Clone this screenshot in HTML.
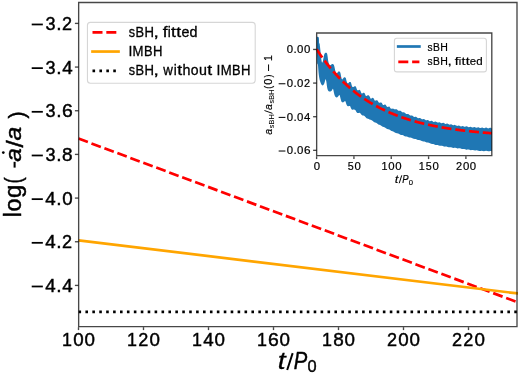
<!DOCTYPE html>
<html><head><meta charset="utf-8"><style>
html,body{margin:0;padding:0;background:#fff;}
body{width:518px;height:375px;overflow:hidden;}
svg{display:block;will-change:transform;}
#w{width:518px;height:375px;}
text{font-family:"Liberation Sans",sans-serif;font-kerning:none;stroke:#000;}
</style></head><body>
<div id="w"><svg width="518" height="375" viewBox="0 0 518 375">
<rect x="0" y="0" width="518" height="375" fill="#fff"/>
<defs><clipPath id="mc"><rect x="78.50" y="2.50" width="440.50" height="324.00"/></clipPath><clipPath id="ic"><rect x="316.6" y="33.0" width="175.2" height="122.6"/></clipPath></defs>
<g clip-path="url(#mc)">
<line x1="78.50" y1="138.6" x2="522.00" y2="303.85" stroke="#ff0000" stroke-width="2.7" stroke-dasharray="10.0 3.83"/>
<line x1="78.50" y1="240.35" x2="522.00" y2="293.96" stroke="#ffa500" stroke-width="2.7"/>
<line x1="78.50" y1="311.9" x2="522.00" y2="311.9" stroke="#000" stroke-width="2.6" stroke-dasharray="2.6 4.317"/>
</g>
<path d="M78.65 2.5 H517.0 V326.55 H78.65 Z" fill="none" stroke="#000" stroke-opacity="0.72" stroke-width="1.35"/>
<line x1="74.90" y1="23.40" x2="78.50" y2="23.40" stroke="#000" stroke-opacity="0.72" stroke-width="1.35"/>
<rect x="31.71" y="23.59" width="11.13" height="1.75" fill="#000"/>
<text transform="translate(45.39 29.90) scale(0.9551 1)" font-size="18.85" style="font-style:normal;stroke-width:0.45px" fill="#000">3</text>
<text transform="translate(56.18 29.90) scale(1.0208 1)" font-size="18.85" style="font-style:normal;stroke-width:0.45px" fill="#000">.</text>
<text transform="translate(62.08 29.90) scale(0.9586 1)" font-size="18.85" style="font-style:normal;stroke-width:0.45px" fill="#000">2</text>
<line x1="74.90" y1="67.07" x2="78.50" y2="67.07" stroke="#000" stroke-opacity="0.72" stroke-width="1.35"/>
<rect x="31.71" y="67.26" width="11.13" height="1.75" fill="#000"/>
<text transform="translate(45.39 73.57) scale(0.9551 1)" font-size="18.85" style="font-style:normal;stroke-width:0.45px" fill="#000">3</text>
<text transform="translate(56.18 73.57) scale(1.0208 1)" font-size="18.85" style="font-style:normal;stroke-width:0.45px" fill="#000">.</text>
<text transform="translate(62.13 73.57) scale(0.9946 1)" font-size="18.85" style="font-style:normal;stroke-width:0.45px" fill="#000">4</text>
<line x1="74.90" y1="110.74" x2="78.50" y2="110.74" stroke="#000" stroke-opacity="0.72" stroke-width="1.35"/>
<rect x="31.71" y="110.93" width="11.13" height="1.75" fill="#000"/>
<text transform="translate(45.39 117.24) scale(0.9551 1)" font-size="18.85" style="font-style:normal;stroke-width:0.45px" fill="#000">3</text>
<text transform="translate(56.18 117.24) scale(1.0208 1)" font-size="18.85" style="font-style:normal;stroke-width:0.45px" fill="#000">.</text>
<text transform="translate(61.94 117.24) scale(1.0293 1)" font-size="18.85" style="font-style:normal;stroke-width:0.45px" fill="#000">6</text>
<line x1="74.90" y1="154.41" x2="78.50" y2="154.41" stroke="#000" stroke-opacity="0.72" stroke-width="1.35"/>
<rect x="31.71" y="154.60" width="11.13" height="1.75" fill="#000"/>
<text transform="translate(45.39 160.91) scale(0.9551 1)" font-size="18.85" style="font-style:normal;stroke-width:0.45px" fill="#000">3</text>
<text transform="translate(56.18 160.91) scale(1.0208 1)" font-size="18.85" style="font-style:normal;stroke-width:0.45px" fill="#000">.</text>
<text transform="translate(62.07 160.91) scale(1.0052 1)" font-size="18.85" style="font-style:normal;stroke-width:0.45px" fill="#000">8</text>
<line x1="74.90" y1="198.08" x2="78.50" y2="198.08" stroke="#000" stroke-opacity="0.72" stroke-width="1.35"/>
<rect x="31.71" y="198.27" width="11.13" height="1.75" fill="#000"/>
<text transform="translate(45.16 204.58) scale(0.9946 1)" font-size="18.85" style="font-style:normal;stroke-width:0.45px" fill="#000">4</text>
<text transform="translate(56.18 204.58) scale(1.0208 1)" font-size="18.85" style="font-style:normal;stroke-width:0.45px" fill="#000">.</text>
<text transform="translate(62.13 204.58) scale(0.9945 1)" font-size="18.85" style="font-style:normal;stroke-width:0.45px" fill="#000">0</text>
<line x1="74.90" y1="241.75" x2="78.50" y2="241.75" stroke="#000" stroke-opacity="0.72" stroke-width="1.35"/>
<rect x="31.71" y="241.94" width="11.13" height="1.75" fill="#000"/>
<text transform="translate(45.16 248.25) scale(0.9946 1)" font-size="18.85" style="font-style:normal;stroke-width:0.45px" fill="#000">4</text>
<text transform="translate(56.18 248.25) scale(1.0208 1)" font-size="18.85" style="font-style:normal;stroke-width:0.45px" fill="#000">.</text>
<text transform="translate(62.08 248.25) scale(0.9586 1)" font-size="18.85" style="font-style:normal;stroke-width:0.45px" fill="#000">2</text>
<line x1="74.90" y1="285.42" x2="78.50" y2="285.42" stroke="#000" stroke-opacity="0.72" stroke-width="1.35"/>
<rect x="31.71" y="285.61" width="11.13" height="1.75" fill="#000"/>
<text transform="translate(45.16 291.92) scale(0.9946 1)" font-size="18.85" style="font-style:normal;stroke-width:0.45px" fill="#000">4</text>
<text transform="translate(56.18 291.92) scale(1.0208 1)" font-size="18.85" style="font-style:normal;stroke-width:0.45px" fill="#000">.</text>
<text transform="translate(62.13 291.92) scale(0.9946 1)" font-size="18.85" style="font-style:normal;stroke-width:0.45px" fill="#000">4</text>
<line x1="78.50" y1="327.20" x2="78.50" y2="330.10" stroke="#000" stroke-opacity="0.72" stroke-width="1.35"/>
<text transform="translate(62.12 346.00) scale(0.9498 1)" font-size="18.85" style="font-style:normal;stroke-width:0.45px" fill="#000">1</text>
<text transform="translate(73.28 346.00) scale(0.9945 1)" font-size="18.85" style="font-style:normal;stroke-width:0.45px" fill="#000">0</text>
<text transform="translate(84.60 346.00) scale(0.9945 1)" font-size="18.85" style="font-style:normal;stroke-width:0.45px" fill="#000">0</text>
<line x1="143.50" y1="327.20" x2="143.50" y2="330.10" stroke="#000" stroke-opacity="0.72" stroke-width="1.35"/>
<text transform="translate(127.12 346.00) scale(0.9498 1)" font-size="18.85" style="font-style:normal;stroke-width:0.45px" fill="#000">1</text>
<text transform="translate(138.24 346.00) scale(0.9586 1)" font-size="18.85" style="font-style:normal;stroke-width:0.45px" fill="#000">2</text>
<text transform="translate(149.60 346.00) scale(0.9945 1)" font-size="18.85" style="font-style:normal;stroke-width:0.45px" fill="#000">0</text>
<line x1="208.50" y1="327.20" x2="208.50" y2="330.10" stroke="#000" stroke-opacity="0.72" stroke-width="1.35"/>
<text transform="translate(192.12 346.00) scale(0.9498 1)" font-size="18.85" style="font-style:normal;stroke-width:0.45px" fill="#000">1</text>
<text transform="translate(203.28 346.00) scale(0.9946 1)" font-size="18.85" style="font-style:normal;stroke-width:0.45px" fill="#000">4</text>
<text transform="translate(214.60 346.00) scale(0.9945 1)" font-size="18.85" style="font-style:normal;stroke-width:0.45px" fill="#000">0</text>
<line x1="273.50" y1="327.20" x2="273.50" y2="330.10" stroke="#000" stroke-opacity="0.72" stroke-width="1.35"/>
<text transform="translate(257.12 346.00) scale(0.9498 1)" font-size="18.85" style="font-style:normal;stroke-width:0.45px" fill="#000">1</text>
<text transform="translate(268.10 346.00) scale(1.0293 1)" font-size="18.85" style="font-style:normal;stroke-width:0.45px" fill="#000">6</text>
<text transform="translate(279.60 346.00) scale(0.9945 1)" font-size="18.85" style="font-style:normal;stroke-width:0.45px" fill="#000">0</text>
<line x1="338.50" y1="327.20" x2="338.50" y2="330.10" stroke="#000" stroke-opacity="0.72" stroke-width="1.35"/>
<text transform="translate(322.12 346.00) scale(0.9498 1)" font-size="18.85" style="font-style:normal;stroke-width:0.45px" fill="#000">1</text>
<text transform="translate(333.23 346.00) scale(1.0052 1)" font-size="18.85" style="font-style:normal;stroke-width:0.45px" fill="#000">8</text>
<text transform="translate(344.60 346.00) scale(0.9945 1)" font-size="18.85" style="font-style:normal;stroke-width:0.45px" fill="#000">0</text>
<line x1="403.50" y1="327.20" x2="403.50" y2="330.10" stroke="#000" stroke-opacity="0.72" stroke-width="1.35"/>
<text transform="translate(386.93 346.00) scale(0.9586 1)" font-size="18.85" style="font-style:normal;stroke-width:0.45px" fill="#000">2</text>
<text transform="translate(398.28 346.00) scale(0.9945 1)" font-size="18.85" style="font-style:normal;stroke-width:0.45px" fill="#000">0</text>
<text transform="translate(409.60 346.00) scale(0.9945 1)" font-size="18.85" style="font-style:normal;stroke-width:0.45px" fill="#000">0</text>
<line x1="468.50" y1="327.20" x2="468.50" y2="330.10" stroke="#000" stroke-opacity="0.72" stroke-width="1.35"/>
<text transform="translate(451.93 346.00) scale(0.9586 1)" font-size="18.85" style="font-style:normal;stroke-width:0.45px" fill="#000">2</text>
<text transform="translate(463.24 346.00) scale(0.9586 1)" font-size="18.85" style="font-style:normal;stroke-width:0.45px" fill="#000">2</text>
<text transform="translate(474.60 346.00) scale(0.9945 1)" font-size="18.85" style="font-style:normal;stroke-width:0.45px" fill="#000">0</text>
<text transform="translate(20.50 217.24) rotate(-90) scale(0.9644 1)" font-size="23.32" style="font-style:normal;stroke-width:0.45px" fill="#000">l</text>
<text transform="translate(20.50 211.46) rotate(-90) scale(1.0029 1)" font-size="23.32" style="font-style:normal;stroke-width:0.45px" fill="#000">o</text>
<text transform="translate(20.50 198.02) rotate(-90) scale(1.0253 1)" font-size="23.32" style="font-style:normal;stroke-width:0.45px" fill="#000">g</text>
<text transform="translate(20.50 183.53) rotate(-90) scale(0.7975 1)" font-size="23.32" style="font-style:normal;stroke-width:0.45px" fill="#000">(</text>
<rect x="13.59" y="161.82" width="2.03" height="5.79" fill="#000"/>
<text transform="translate(20.50 161.85) rotate(-90) scale(1.0904 1)" font-size="22.40" style="font-style:italic;stroke-width:0.45px" fill="#000">a</text>
<circle cx="3.3" cy="152.6" r="1.35" fill="#000"/>
<text transform="translate(22.70 147.60) rotate(-90) scale(1.0638 1)" font-size="24.70" style="font-style:normal;stroke-width:0.45px" fill="#000">/</text>
<text transform="translate(20.50 140.45) rotate(-90) scale(1.0993 1)" font-size="22.40" style="font-style:italic;stroke-width:0.45px" fill="#000">a</text>
<text transform="translate(23.70 118.42) rotate(-90) scale(0.9429 1)" font-size="22.40" style="font-style:normal;stroke-width:0.45px" fill="#000">)</text>
<text transform="translate(277.85 368.60) scale(1.2000 1)" font-size="23.53" style="font-style:italic;stroke-width:0.27px" fill="#000">t</text>
<line x1="287.19" y1="370.00" x2="292.67" y2="353.08" stroke="#000" stroke-width="1.95"/>
<text transform="translate(293.63 368.60) scale(0.8600 1)" font-size="23.53" style="font-style:italic;stroke-width:0.45px" fill="#000">P</text>
<text transform="translate(307.40 372.30) scale(0.9945 1)" font-size="16.48" style="font-style:normal;stroke-width:0.40px" fill="#000">0</text>
<rect x="87.45" y="22.35" width="167.75" height="60.85" rx="3" fill="#fff" fill-opacity="0.8" stroke="#d6d6d6" stroke-width="1.1"/>
<line x1="92.5" y1="32.40" x2="118.5" y2="32.40" stroke="#ff0000" stroke-width="2.7" stroke-dasharray="10.0 3.83"/>
<line x1="92.5" y1="51.55" x2="118.5" y2="51.55" stroke="#ffa500" stroke-width="2.7" stroke-linecap="square"/>
<line x1="92.5" y1="70.90" x2="118.5" y2="70.90" stroke="#000" stroke-width="2.6" stroke-dasharray="2.6 4.317"/>
<text transform="translate(128.81 36.70) scale(0.9043 1)" font-size="13.99" style="font-style:normal;stroke-width:0.30px" fill="#000">s</text>
<text transform="translate(135.57 36.70) scale(0.9166 1)" font-size="13.99" style="font-style:normal;stroke-width:0.30px" fill="#000">B</text>
<text transform="translate(144.60 36.70) scale(0.9384 1)" font-size="13.99" style="font-style:normal;stroke-width:0.30px" fill="#000">H</text>
<text transform="translate(153.60 36.70) scale(1.3752 1)" font-size="13.99" style="font-style:normal;stroke-width:0.30px" fill="#000">,</text>
<text transform="translate(162.76 36.70) scale(1.2388 1)" font-size="13.99" style="font-style:normal;stroke-width:0.30px" fill="#000">f</text>
<text transform="translate(167.69 36.70) scale(0.9644 1)" font-size="13.99" style="font-style:normal;stroke-width:0.30px" fill="#000">i</text>
<text transform="translate(171.10 36.70) scale(1.2609 1)" font-size="13.99" style="font-style:normal;stroke-width:0.30px" fill="#000">t</text>
<text transform="translate(176.28 36.70) scale(1.2609 1)" font-size="13.99" style="font-style:normal;stroke-width:0.30px" fill="#000">t</text>
<text transform="translate(181.49 36.70) scale(1.0190 1)" font-size="13.99" style="font-style:normal;stroke-width:0.30px" fill="#000">e</text>
<text transform="translate(189.61 36.70) scale(1.0253 1)" font-size="13.99" style="font-style:normal;stroke-width:0.30px" fill="#000">d</text>
<text transform="translate(128.46 56.15) scale(0.9977 1)" font-size="13.99" style="font-style:normal;stroke-width:0.30px" fill="#000">I</text>
<text transform="translate(132.56 56.15) scale(0.9406 1)" font-size="13.99" style="font-style:normal;stroke-width:0.30px" fill="#000">M</text>
<text transform="translate(143.98 56.15) scale(0.9166 1)" font-size="13.99" style="font-style:normal;stroke-width:0.30px" fill="#000">B</text>
<text transform="translate(153.01 56.15) scale(0.9384 1)" font-size="13.99" style="font-style:normal;stroke-width:0.30px" fill="#000">H</text>
<text transform="translate(128.81 75.30) scale(0.9043 1)" font-size="13.99" style="font-style:normal;stroke-width:0.30px" fill="#000">s</text>
<text transform="translate(135.57 75.30) scale(0.9166 1)" font-size="13.99" style="font-style:normal;stroke-width:0.30px" fill="#000">B</text>
<text transform="translate(144.60 75.30) scale(0.9384 1)" font-size="13.99" style="font-style:normal;stroke-width:0.30px" fill="#000">H</text>
<text transform="translate(153.60 75.30) scale(1.3752 1)" font-size="13.99" style="font-style:normal;stroke-width:0.30px" fill="#000">,</text>
<text transform="translate(163.27 75.30) scale(0.9535 1)" font-size="13.99" style="font-style:normal;stroke-width:0.30px" fill="#000">w</text>
<text transform="translate(173.84 75.30) scale(0.9644 1)" font-size="13.99" style="font-style:normal;stroke-width:0.30px" fill="#000">i</text>
<text transform="translate(177.25 75.30) scale(1.2609 1)" font-size="13.99" style="font-style:normal;stroke-width:0.30px" fill="#000">t</text>
<text transform="translate(182.54 75.30) scale(1.0242 1)" font-size="13.99" style="font-style:normal;stroke-width:0.30px" fill="#000">h</text>
<text transform="translate(190.84 75.30) scale(1.0029 1)" font-size="13.99" style="font-style:normal;stroke-width:0.30px" fill="#000">o</text>
<text transform="translate(198.98 75.30) scale(1.0171 1)" font-size="13.99" style="font-style:normal;stroke-width:0.30px" fill="#000">u</text>
<text transform="translate(207.23 75.30) scale(1.2609 1)" font-size="13.99" style="font-style:normal;stroke-width:0.30px" fill="#000">t</text>
<text transform="translate(216.53 75.30) scale(0.9977 1)" font-size="13.99" style="font-style:normal;stroke-width:0.30px" fill="#000">I</text>
<text transform="translate(220.63 75.30) scale(0.9406 1)" font-size="13.99" style="font-style:normal;stroke-width:0.30px" fill="#000">M</text>
<text transform="translate(232.04 75.30) scale(0.9166 1)" font-size="13.99" style="font-style:normal;stroke-width:0.30px" fill="#000">B</text>
<text transform="translate(241.07 75.30) scale(0.9384 1)" font-size="13.99" style="font-style:normal;stroke-width:0.30px" fill="#000">H</text>
<rect x="316.60" y="33.00" width="175.20" height="122.60" fill="#fff"/>
<g clip-path="url(#ic)">
<path d="M316.60 37.40 C316.68 37.32 316.88 37.00 317.10 36.90 C317.32 36.80 317.65 36.73 317.90 36.80 C318.15 36.87 318.43 36.97 318.60 37.30 C318.78 37.63 318.87 37.85 318.95 38.80 C319.03 39.75 318.99 42.20 319.10 43.00 C319.21 43.80 319.47 43.10 319.60 43.60 C319.73 44.10 319.77 44.85 319.90 46.00 C320.03 47.15 320.25 49.00 320.40 50.50 C320.55 52.00 320.65 53.53 320.80 55.00 C320.95 56.47 321.13 58.13 321.30 59.30 C321.47 60.47 321.63 61.45 321.80 62.00 C321.97 62.55 322.13 62.68 322.30 62.60 C322.47 62.52 322.63 62.10 322.80 61.50 C322.97 60.90 323.13 59.83 323.30 59.00 C323.47 58.17 323.63 57.30 323.80 56.50 C323.97 55.70 324.08 54.77 324.30 54.20 C324.52 53.63 324.83 53.33 325.10 53.10 C325.37 52.87 325.63 52.80 325.90 52.80 C326.17 52.80 326.47 52.82 326.70 53.10 C326.93 53.38 327.13 53.85 327.30 54.50 C327.47 55.15 327.57 56.03 327.70 57.00 C327.83 57.97 327.95 59.33 328.10 60.30 C328.25 61.27 328.40 62.10 328.60 62.80 C328.80 63.50 329.03 64.08 329.30 64.50 C329.57 64.92 329.88 65.25 330.20 65.30 C330.52 65.35 330.90 65.00 331.20 64.80 C331.50 64.60 331.73 64.25 332.00 64.10 C332.27 63.95 332.53 63.83 332.80 63.90 C333.07 63.97 333.35 64.10 333.60 64.50 C333.85 64.90 334.08 65.55 334.30 66.30 C334.52 67.05 334.70 68.13 334.90 69.00 C335.10 69.87 335.27 70.78 335.50 71.50 C335.73 72.22 336.02 73.05 336.30 73.30 C336.58 73.55 336.97 73.18 337.20 73.00 C337.43 72.82 337.50 72.43 337.70 72.20 C337.90 71.97 338.17 71.73 338.40 71.60 C338.63 71.47 338.87 71.38 339.10 71.40 C339.33 71.42 339.57 71.40 339.80 71.70 C340.03 72.00 340.30 72.48 340.50 73.20 C340.70 73.92 340.82 75.12 341.00 76.00 C341.18 76.88 341.38 77.93 341.60 78.50 C341.82 79.07 342.07 79.38 342.30 79.40 C342.53 79.42 342.78 78.88 343.00 78.60 C343.22 78.32 343.37 77.92 343.60 77.70 C343.83 77.48 344.13 77.35 344.40 77.30 C344.67 77.25 344.95 77.23 345.20 77.40 C345.45 77.57 345.68 77.73 345.90 78.30 C346.12 78.87 346.27 80.02 346.50 80.80 C346.73 81.58 347.02 82.60 347.30 83.00 C347.58 83.40 347.93 83.30 348.20 83.20 C348.47 83.10 348.65 82.58 348.90 82.40 C349.15 82.22 349.43 82.15 349.70 82.10 C349.97 82.05 350.27 81.95 350.50 82.10 C350.73 82.25 350.90 82.47 351.10 83.00 C351.30 83.53 351.47 84.65 351.70 85.30 C351.93 85.95 352.22 86.62 352.50 86.90 C352.78 87.18 353.12 87.07 353.40 87.00 C353.68 86.93 353.93 86.62 354.20 86.50 C354.47 86.38 354.73 86.28 355.00 86.30 C355.27 86.32 355.55 86.28 355.80 86.60 C356.05 86.92 356.27 87.63 356.50 88.20 C356.73 88.77 356.93 89.65 357.20 90.00 C357.47 90.35 357.82 90.32 358.10 90.30 C358.38 90.28 358.65 89.97 358.90 89.90 C359.15 89.83 359.37 89.80 359.60 89.90 C359.83 90.00 360.07 90.10 360.30 90.50 C360.53 90.90 360.77 91.82 361.00 92.30 C361.23 92.78 361.43 93.25 361.70 93.40 C361.97 93.55 362.33 93.30 362.60 93.20 C362.87 93.10 363.07 92.87 363.30 92.80 C363.53 92.73 363.75 92.67 364.00 92.80 C364.25 92.93 364.53 93.17 364.80 93.60 C365.07 94.03 365.33 95.00 365.60 95.40 C365.87 95.80 366.12 95.97 366.40 96.00 C366.68 96.03 367.02 95.72 367.30 95.60 C367.58 95.48 367.83 95.32 368.10 95.30 C368.37 95.28 368.62 95.27 368.90 95.50 C369.18 95.73 369.52 96.22 369.80 96.70 C370.08 97.18 370.33 98.08 370.60 98.40 C370.87 98.72 371.12 98.67 371.40 98.60 C371.68 98.53 372.02 98.12 372.30 98.00 C372.58 97.88 372.83 97.77 373.10 97.90 C373.37 98.03 373.63 98.37 373.90 98.80 C374.17 99.23 374.42 100.20 374.70 100.50 C374.98 100.80 375.32 100.65 375.60 100.60 C375.88 100.55 376.13 100.25 376.40 100.20 C376.67 100.15 376.93 100.12 377.20 100.30 C377.47 100.48 377.73 100.92 378.00 101.30 C378.27 101.68 378.50 102.37 378.80 102.60 C379.10 102.83 379.47 102.72 379.80 102.70 C380.13 102.68 380.50 102.48 380.80 102.50 C381.10 102.52 381.33 102.57 381.60 102.80 C381.87 103.03 382.13 103.53 382.40 103.90 C382.67 104.27 382.90 104.85 383.20 105.00 C383.50 105.15 383.87 104.87 384.20 104.80 C384.53 104.73 384.90 104.53 385.20 104.60 C385.50 104.67 385.73 104.87 386.00 105.20 C386.27 105.53 386.53 106.28 386.80 106.60 C387.07 106.92 387.33 107.07 387.60 107.10 C387.87 107.13 388.13 106.88 388.40 106.80 C388.67 106.72 388.93 106.50 389.20 106.60 C389.47 106.70 389.73 107.07 390.00 107.40 C390.27 107.73 390.50 108.38 390.80 108.60 C391.10 108.82 391.47 108.73 391.80 108.70 C392.13 108.67 392.50 108.38 392.80 108.40 C393.10 108.42 393.30 108.64 393.60 108.80 C393.90 108.96 394.11 109.29 394.60 109.37 C395.09 109.44 395.90 109.03 396.55 109.26 C397.20 109.48 397.85 110.44 398.50 110.70 C399.15 110.96 399.80 110.55 400.45 110.82 C401.10 111.10 401.75 112.08 402.40 112.34 C403.05 112.61 403.70 112.15 404.35 112.41 C405.00 112.67 405.65 113.63 406.30 113.90 C406.95 114.16 407.60 113.73 408.25 114.00 C408.90 114.26 409.55 115.23 410.20 115.49 C410.85 115.74 411.50 115.30 412.15 115.54 C412.80 115.78 413.45 116.70 414.10 116.92 C414.75 117.14 415.40 116.65 416.05 116.86 C416.70 117.06 417.35 117.96 418.00 118.16 C418.65 118.35 419.30 117.84 419.95 118.02 C420.60 118.20 421.25 119.08 421.90 119.26 C422.55 119.43 423.20 118.91 423.85 119.07 C424.50 119.24 425.15 120.10 425.80 120.26 C426.45 120.42 427.10 119.87 427.75 120.02 C428.40 120.17 429.05 121.01 429.70 121.15 C430.35 121.29 431.00 120.73 431.65 120.86 C432.30 120.99 432.95 121.82 433.60 121.94 C434.25 122.06 434.90 121.47 435.55 121.58 C436.20 121.69 436.85 122.49 437.50 122.59 C438.15 122.69 438.80 122.09 439.45 122.19 C440.10 122.29 440.75 123.09 441.40 123.20 C442.05 123.31 442.70 122.72 443.35 122.84 C444.00 122.95 444.65 123.78 445.30 123.90 C445.95 124.02 446.60 123.44 447.25 123.56 C447.90 123.68 448.55 124.50 449.20 124.62 C449.85 124.73 450.50 124.15 451.15 124.26 C451.80 124.37 452.45 125.17 453.10 125.27 C453.75 125.38 454.40 124.78 455.05 124.88 C455.70 124.98 456.35 125.77 457.00 125.87 C457.65 125.96 458.30 125.35 458.95 125.44 C459.60 125.53 460.25 126.32 460.90 126.40 C461.55 126.48 462.20 125.86 462.85 125.94 C463.50 126.01 464.15 126.79 464.80 126.86 C465.45 126.93 466.10 126.30 466.75 126.36 C467.40 126.43 468.05 127.19 468.70 127.25 C469.35 127.31 470.00 126.67 470.65 126.72 C471.30 126.78 471.95 127.53 472.60 127.58 C473.25 127.62 473.90 126.97 474.55 127.01 C475.20 127.05 475.85 127.79 476.50 127.83 C477.15 127.87 477.80 127.20 478.45 127.24 C479.10 127.27 479.75 128.01 480.40 128.04 C481.05 128.07 481.70 127.41 482.35 127.44 C483.00 127.47 483.65 128.20 484.30 128.23 C484.95 128.26 485.60 127.59 486.25 127.61 C486.90 127.64 487.55 128.37 488.20 128.39 C488.85 128.41 489.50 127.72 490.15 127.75 C490.80 127.77 491.77 128.39 492.10 128.52 L492.70 151.39 C492.33 151.31 491.23 150.97 490.50 150.95 C489.77 150.94 489.03 151.33 488.30 151.31 C487.57 151.30 486.83 150.88 486.10 150.86 C485.37 150.83 484.63 151.21 483.90 151.18 C483.17 151.15 482.43 150.71 481.70 150.67 C480.97 150.63 480.23 150.98 479.50 150.93 C478.77 150.89 478.03 150.43 477.30 150.38 C476.57 150.32 475.83 150.66 475.10 150.60 C474.37 150.54 473.63 150.07 472.90 150.00 C472.17 149.93 471.43 150.26 470.70 150.18 C469.97 150.10 469.23 149.62 468.50 149.53 C467.77 149.45 467.03 149.76 466.30 149.66 C465.57 149.57 464.83 149.07 464.10 148.97 C463.37 148.87 462.63 149.16 461.90 149.06 C461.17 148.95 460.43 148.45 459.70 148.35 C458.97 148.26 458.23 148.58 457.50 148.49 C456.77 148.40 456.03 147.92 455.30 147.83 C454.57 147.73 453.83 148.04 453.10 147.95 C452.37 147.85 451.63 147.35 450.90 147.24 C450.17 147.14 449.43 147.43 448.70 147.32 C447.97 147.20 447.23 146.69 446.50 146.57 C445.77 146.45 445.03 146.73 444.30 146.60 C443.57 146.48 442.83 145.94 442.10 145.81 C441.37 145.67 440.63 145.93 439.90 145.79 C439.17 145.64 438.43 145.10 437.70 144.95 C436.97 144.79 436.23 145.04 435.50 144.88 C434.77 144.72 434.03 144.15 433.30 143.98 C432.57 143.81 431.83 144.04 431.10 143.85 C430.37 143.66 429.63 143.06 428.90 142.86 C428.17 142.65 427.43 142.83 426.70 142.62 C425.97 142.40 425.23 141.78 424.50 141.57 C423.77 141.36 423.03 141.57 422.30 141.36 C421.57 141.14 420.83 140.52 420.10 140.30 C419.37 140.08 418.63 140.26 417.90 140.05 C417.17 139.83 416.43 139.24 415.70 139.04 C414.97 138.83 414.23 139.04 413.50 138.83 C412.77 138.61 412.03 137.97 411.30 137.75 C410.57 137.54 409.83 137.74 409.10 137.52 C408.37 137.30 407.63 136.68 406.90 136.45 C406.17 136.22 405.43 136.39 404.70 136.16 C403.97 135.92 403.23 135.28 402.50 135.03 C401.77 134.78 401.03 134.92 400.30 134.66 C399.57 134.39 398.83 133.72 398.10 133.44 C397.37 133.16 396.63 133.27 395.90 132.97 C395.17 132.67 394.43 131.96 393.70 131.64 C392.97 131.32 392.23 131.39 391.50 131.05 C390.77 130.71 390.03 129.95 389.30 129.59 C388.57 129.23 387.83 129.27 387.10 128.90 C386.37 128.53 385.63 127.76 384.90 127.38 C384.17 127.01 383.43 127.03 382.70 126.66 C381.97 126.28 381.23 125.52 380.50 125.15 C379.77 124.78 379.03 124.83 378.30 124.44 C377.57 124.06 376.83 123.29 376.10 122.86 C375.37 122.44 374.63 122.34 373.90 121.91 C373.17 121.48 372.43 120.67 371.70 120.28 C370.97 119.88 370.12 119.79 369.50 119.55 C368.88 119.30 368.50 119.02 368.00 118.80 C367.50 118.58 366.93 118.48 366.50 118.20 C366.07 117.92 365.73 117.47 365.40 117.10 C365.07 116.73 364.82 116.25 364.50 116.00 C364.18 115.75 363.83 115.68 363.50 115.60 C363.17 115.52 362.80 115.58 362.50 115.50 C362.20 115.42 361.97 115.35 361.70 115.10 C361.43 114.85 361.17 114.37 360.90 114.00 C360.63 113.63 360.38 113.08 360.10 112.90 C359.82 112.72 359.52 112.87 359.20 112.90 C358.88 112.93 358.52 113.10 358.20 113.10 C357.88 113.10 357.60 113.08 357.30 112.90 C357.00 112.72 356.70 112.43 356.40 112.00 C356.10 111.57 355.80 110.68 355.50 110.30 C355.20 109.92 354.92 109.82 354.60 109.70 C354.28 109.58 353.93 109.60 353.60 109.60 C353.27 109.60 352.90 109.73 352.60 109.70 C352.30 109.67 352.07 109.65 351.80 109.40 C351.53 109.15 351.27 108.72 351.00 108.20 C350.73 107.68 350.43 106.68 350.20 106.30 C349.97 105.92 349.80 105.93 349.60 105.90 C349.40 105.87 349.28 106.03 349.00 106.10 C348.72 106.17 348.23 106.38 347.90 106.30 C347.57 106.22 347.28 106.02 347.00 105.60 C346.72 105.18 346.45 104.47 346.20 103.80 C345.95 103.13 345.70 102.07 345.50 101.60 C345.30 101.13 345.18 101.02 345.00 101.00 C344.82 100.98 344.65 101.30 344.40 101.50 C344.15 101.70 343.85 102.07 343.50 102.20 C343.15 102.33 342.67 102.47 342.30 102.30 C341.93 102.13 341.58 101.78 341.30 101.20 C341.02 100.62 340.83 99.67 340.60 98.80 C340.37 97.93 340.10 96.63 339.90 96.00 C339.70 95.37 339.55 95.13 339.40 95.00 C339.25 94.87 339.18 94.98 339.00 95.20 C338.82 95.42 338.58 95.97 338.30 96.30 C338.02 96.63 337.68 97.03 337.30 97.20 C336.92 97.37 336.42 97.53 336.00 97.30 C335.58 97.07 335.13 96.52 334.80 95.80 C334.47 95.08 334.23 93.97 334.00 93.00 C333.77 92.03 333.58 90.70 333.40 90.00 C333.22 89.30 333.05 88.93 332.90 88.80 C332.75 88.67 332.68 88.93 332.50 89.20 C332.32 89.47 332.07 90.05 331.80 90.40 C331.53 90.75 331.23 91.12 330.90 91.30 C330.57 91.48 330.17 91.52 329.80 91.50 C329.43 91.48 329.03 91.45 328.70 91.20 C328.37 90.95 328.07 90.65 327.80 90.00 C327.53 89.35 327.30 88.38 327.10 87.30 C326.90 86.22 326.77 84.63 326.60 83.50 C326.43 82.37 326.27 81.20 326.10 80.50 C325.93 79.80 325.78 79.22 325.60 79.30 C325.42 79.38 325.22 80.28 325.00 81.00 C324.78 81.72 324.57 82.93 324.30 83.60 C324.03 84.27 323.72 84.70 323.40 85.00 C323.08 85.30 322.73 85.47 322.40 85.40 C322.07 85.33 321.72 85.07 321.40 84.60 C321.08 84.13 320.78 83.37 320.50 82.60 C320.22 81.83 319.93 80.93 319.70 80.00 C319.47 79.07 319.28 78.17 319.10 77.00 C318.92 75.83 318.75 74.50 318.60 73.00 C318.45 71.50 318.32 69.40 318.20 68.00 C318.08 66.60 318.07 65.38 317.90 64.60 C317.73 63.82 317.33 64.40 317.20 63.30 C317.07 62.20 317.15 59.88 317.10 58.00 C317.05 56.12 316.97 54.00 316.90 52.00 C316.83 50.00 316.75 48.43 316.70 46.00 C316.65 43.57 316.62 38.83 316.60 37.40 Z" fill="#1f77b4"/><path d="M316.60 49.30 L317.10 50.06 L317.60 50.81 L318.10 51.56 L318.60 52.30 L319.10 53.03 L319.60 53.76 L320.10 54.48 L320.60 55.20 L321.10 55.91 L321.60 56.61 L322.10 57.31 L322.60 58.00 L323.10 58.68 L323.60 59.36 L324.10 60.03 L324.60 60.70 L325.10 61.36 L325.60 62.02 L326.10 62.67 L326.60 63.31 L327.10 63.95 L327.60 64.59 L328.10 65.22 L328.60 65.84 L329.10 66.45 L329.60 67.07 L330.10 67.67 L330.60 68.28 L331.10 68.87 L331.60 69.46 L332.10 70.05 L332.60 70.63 L333.10 71.21 L333.60 71.78 L334.10 72.34 L334.60 72.90 L335.10 73.46 L335.60 74.01 L336.10 74.56 L336.60 75.10 L337.10 75.64 L337.60 76.17 L338.10 76.70 L338.60 77.22 L339.10 77.74 L339.60 78.26 L340.10 78.77 L340.60 79.27 L341.10 79.77 L341.60 80.27 L342.10 80.77 L342.60 81.25 L343.10 81.74 L343.60 82.22 L344.10 82.69 L344.60 83.17 L345.10 83.63 L345.60 84.10 L346.10 84.56 L346.60 85.01 L347.10 85.47 L347.60 85.91 L348.10 86.36 L348.60 86.80 L349.10 87.24 L349.60 87.67 L350.10 88.10 L350.60 88.52 L351.10 88.95 L351.60 89.36 L352.10 89.78 L352.60 90.19 L353.10 90.60 L353.60 91.00 L354.10 91.40 L354.60 91.80 L355.10 92.19 L355.60 92.58 L356.10 92.97 L356.60 93.35 L357.10 93.73 L357.60 94.11 L358.10 94.48 L358.60 94.85 L359.10 95.22 L359.60 95.58 L360.10 95.95 L360.60 96.30 L361.10 96.66 L361.60 97.01 L362.10 97.36 L362.60 97.70 L363.10 98.05 L363.60 98.39 L364.10 98.72 L364.60 99.06 L365.10 99.39 L365.60 99.72 L366.10 100.04 L366.60 100.36 L367.10 100.68 L367.60 101.00 L368.10 101.32 L368.60 101.63 L369.10 101.94 L369.60 102.24 L370.10 102.55 L370.60 102.85 L371.10 103.15 L371.60 103.44 L372.10 103.73 L372.60 104.02 L373.10 104.31 L373.60 104.60 L374.10 104.88 L374.60 105.16 L375.10 105.44 L375.60 105.72 L376.10 105.99 L376.60 106.26 L377.10 106.53 L377.60 106.80 L378.10 107.06 L378.60 107.32 L379.10 107.58 L379.60 107.84 L380.10 108.10 L380.60 108.35 L381.10 108.60 L381.60 108.85 L382.10 109.10 L382.60 109.34 L383.10 109.58 L383.60 109.82 L384.10 110.06 L384.60 110.30 L385.10 110.53 L385.60 110.76 L386.10 110.99 L386.60 111.22 L387.10 111.45 L387.60 111.67 L388.10 111.90 L388.60 112.12 L389.10 112.33 L389.60 112.55 L390.10 112.77 L390.60 112.98 L391.10 113.19 L391.60 113.40 L392.10 113.61 L392.60 113.81 L393.10 114.02 L393.60 114.22 L394.10 114.42 L394.60 114.62 L395.10 114.81 L395.60 115.01 L396.10 115.20 L396.60 115.39 L397.10 115.58 L397.60 115.77 L398.10 115.96 L398.60 116.15 L399.10 116.33 L399.60 116.51 L400.10 116.69 L400.60 116.87 L401.10 117.05 L401.60 117.22 L402.10 117.40 L402.60 117.57 L403.10 117.74 L403.60 117.91 L404.10 118.08 L404.60 118.25 L405.10 118.41 L405.60 118.58 L406.10 118.74 L406.60 118.90 L407.10 119.06 L407.60 119.22 L408.10 119.38 L408.60 119.54 L409.10 119.69 L409.60 119.84 L410.10 119.99 L410.60 120.15 L411.10 120.29 L411.60 120.44 L412.10 120.59 L412.60 120.73 L413.10 120.88 L413.60 121.02 L414.10 121.16 L414.60 121.30 L415.10 121.44 L415.60 121.58 L416.10 121.72 L416.60 121.85 L417.10 121.99 L417.60 122.12 L418.10 122.25 L418.60 122.39 L419.10 122.52 L419.60 122.64 L420.10 122.77 L420.60 122.90 L421.10 123.02 L421.60 123.15 L422.10 123.27 L422.60 123.39 L423.10 123.52 L423.60 123.64 L424.10 123.76 L424.60 123.87 L425.10 123.99 L425.60 124.11 L426.10 124.22 L426.60 124.34 L427.10 124.45 L427.60 124.56 L428.10 124.67 L428.60 124.78 L429.10 124.89 L429.60 125.00 L430.10 125.11 L430.60 125.22 L431.10 125.32 L431.60 125.43 L432.10 125.53 L432.60 125.63 L433.10 125.73 L433.60 125.84 L434.10 125.94 L434.60 126.03 L435.10 126.13 L435.60 126.23 L436.10 126.33 L436.60 126.42 L437.10 126.52 L437.60 126.61 L438.10 126.71 L438.60 126.80 L439.10 126.89 L439.60 126.98 L440.10 127.07 L440.60 127.16 L441.10 127.25 L441.60 127.34 L442.10 127.43 L442.60 127.51 L443.10 127.60 L443.60 127.68 L444.10 127.77 L444.60 127.85 L445.10 127.94 L445.60 128.02 L446.10 128.10 L446.60 128.18 L447.10 128.26 L447.60 128.34 L448.10 128.42 L448.60 128.50 L449.10 128.57 L449.60 128.65 L450.10 128.73 L450.60 128.80 L451.10 128.88 L451.60 128.95 L452.10 129.02 L452.60 129.10 L453.10 129.17 L453.60 129.24 L454.10 129.31 L454.60 129.38 L455.10 129.45 L455.60 129.52 L456.10 129.59 L456.60 129.66 L457.10 129.72 L457.60 129.79 L458.10 129.86 L458.60 129.92 L459.10 129.99 L459.60 130.05 L460.10 130.12 L460.60 130.18 L461.10 130.24 L461.60 130.30 L462.10 130.37 L462.60 130.43 L463.10 130.49 L463.60 130.55 L464.10 130.61 L464.60 130.67 L465.10 130.73 L465.60 130.78 L466.10 130.84 L466.60 130.90 L467.10 130.95 L467.60 131.01 L468.10 131.07 L468.60 131.12 L469.10 131.18 L469.60 131.23 L470.10 131.28 L470.60 131.34 L471.10 131.39 L471.60 131.44 L472.10 131.50 L472.60 131.55 L473.10 131.60 L473.60 131.65 L474.10 131.70 L474.60 131.75 L475.10 131.80 L475.60 131.85 L476.10 131.89 L476.60 131.94 L477.10 131.99 L477.60 132.04 L478.10 132.08 L478.60 132.13 L479.10 132.18 L479.60 132.22 L480.10 132.27 L480.60 132.31 L481.10 132.36 L481.60 132.40 L482.10 132.44 L482.60 132.49 L483.10 132.53 L483.60 132.57 L484.10 132.62 L484.60 132.66 L485.10 132.70 L485.60 132.74 L486.10 132.78 L486.60 132.82 L487.10 132.86 L487.60 132.90 L488.10 132.94 L488.60 132.98 L489.10 133.02 L489.60 133.06 L490.10 133.09 L490.60 133.13 L491.10 133.17 L491.60 133.21 L492.10 133.24 L492.60 133.28" fill="none" stroke="#ff0000" stroke-width="2.7" stroke-dasharray="10.0 3.84"/>
</g>
<path d="M316.65 33.0 H491.8 V155.6 H316.65 Z" fill="none" stroke="#000" stroke-opacity="0.72" stroke-width="1.35"/>
<line x1="313.10" y1="49.45" x2="316.60" y2="49.45" stroke="#000" stroke-opacity="0.72" stroke-width="1.35"/>
<text transform="translate(286.82 53.45) scale(0.9945 1)" font-size="11.45" style="font-style:normal;stroke-width:0.20px" fill="#000">0</text>
<text transform="translate(293.51 53.45) scale(1.0208 1)" font-size="11.45" style="font-style:normal;stroke-width:0.20px" fill="#000">.</text>
<text transform="translate(297.12 53.45) scale(0.9945 1)" font-size="11.45" style="font-style:normal;stroke-width:0.20px" fill="#000">0</text>
<text transform="translate(304.00 53.45) scale(0.9945 1)" font-size="11.45" style="font-style:normal;stroke-width:0.20px" fill="#000">0</text>
<line x1="313.10" y1="83.08" x2="316.60" y2="83.08" stroke="#000" stroke-opacity="0.72" stroke-width="1.35"/>
<rect x="278.65" y="83.25" width="6.76" height="1.02" fill="#000"/>
<text transform="translate(286.82 87.08) scale(0.9945 1)" font-size="11.45" style="font-style:normal;stroke-width:0.20px" fill="#000">0</text>
<text transform="translate(293.51 87.08) scale(1.0208 1)" font-size="11.45" style="font-style:normal;stroke-width:0.20px" fill="#000">.</text>
<text transform="translate(297.12 87.08) scale(0.9945 1)" font-size="11.45" style="font-style:normal;stroke-width:0.20px" fill="#000">0</text>
<text transform="translate(303.97 87.08) scale(0.9586 1)" font-size="11.45" style="font-style:normal;stroke-width:0.20px" fill="#000">2</text>
<line x1="313.10" y1="116.71" x2="316.60" y2="116.71" stroke="#000" stroke-opacity="0.72" stroke-width="1.35"/>
<rect x="278.65" y="116.88" width="6.76" height="1.02" fill="#000"/>
<text transform="translate(286.82 120.71) scale(0.9945 1)" font-size="11.45" style="font-style:normal;stroke-width:0.20px" fill="#000">0</text>
<text transform="translate(293.51 120.71) scale(1.0208 1)" font-size="11.45" style="font-style:normal;stroke-width:0.20px" fill="#000">.</text>
<text transform="translate(297.12 120.71) scale(0.9945 1)" font-size="11.45" style="font-style:normal;stroke-width:0.20px" fill="#000">0</text>
<text transform="translate(303.99 120.71) scale(0.9946 1)" font-size="11.45" style="font-style:normal;stroke-width:0.20px" fill="#000">4</text>
<line x1="313.10" y1="150.34" x2="316.60" y2="150.34" stroke="#000" stroke-opacity="0.72" stroke-width="1.35"/>
<rect x="278.65" y="150.51" width="6.76" height="1.02" fill="#000"/>
<text transform="translate(286.82 154.34) scale(0.9945 1)" font-size="11.45" style="font-style:normal;stroke-width:0.20px" fill="#000">0</text>
<text transform="translate(293.51 154.34) scale(1.0208 1)" font-size="11.45" style="font-style:normal;stroke-width:0.20px" fill="#000">.</text>
<text transform="translate(297.12 154.34) scale(0.9945 1)" font-size="11.45" style="font-style:normal;stroke-width:0.20px" fill="#000">0</text>
<text transform="translate(303.88 154.34) scale(1.0293 1)" font-size="11.45" style="font-style:normal;stroke-width:0.20px" fill="#000">6</text>
<line x1="316.60" y1="156.30" x2="316.60" y2="159.10" stroke="#000" stroke-opacity="0.72" stroke-width="1.35"/>
<text transform="translate(313.63 169.75) scale(0.9945 1)" font-size="11.45" style="font-style:normal;stroke-width:0.20px" fill="#000">0</text>
<line x1="353.93" y1="156.30" x2="353.93" y2="159.10" stroke="#000" stroke-opacity="0.72" stroke-width="1.35"/>
<text transform="translate(347.66 169.75) scale(0.9385 1)" font-size="11.45" style="font-style:normal;stroke-width:0.20px" fill="#000">5</text>
<text transform="translate(354.39 169.75) scale(0.9945 1)" font-size="11.45" style="font-style:normal;stroke-width:0.20px" fill="#000">0</text>
<line x1="391.25" y1="156.30" x2="391.25" y2="159.10" stroke="#000" stroke-opacity="0.72" stroke-width="1.35"/>
<text transform="translate(381.50 169.75) scale(0.9498 1)" font-size="11.45" style="font-style:normal;stroke-width:0.20px" fill="#000">1</text>
<text transform="translate(388.28 169.75) scale(0.9945 1)" font-size="11.45" style="font-style:normal;stroke-width:0.20px" fill="#000">0</text>
<text transform="translate(395.15 169.75) scale(0.9945 1)" font-size="11.45" style="font-style:normal;stroke-width:0.20px" fill="#000">0</text>
<line x1="428.58" y1="156.30" x2="428.58" y2="159.10" stroke="#000" stroke-opacity="0.72" stroke-width="1.35"/>
<text transform="translate(418.83 169.75) scale(0.9498 1)" font-size="11.45" style="font-style:normal;stroke-width:0.20px" fill="#000">1</text>
<text transform="translate(425.74 169.75) scale(0.9385 1)" font-size="11.45" style="font-style:normal;stroke-width:0.20px" fill="#000">5</text>
<text transform="translate(432.48 169.75) scale(0.9945 1)" font-size="11.45" style="font-style:normal;stroke-width:0.20px" fill="#000">0</text>
<line x1="465.90" y1="156.30" x2="465.90" y2="159.10" stroke="#000" stroke-opacity="0.72" stroke-width="1.35"/>
<text transform="translate(456.03 169.75) scale(0.9586 1)" font-size="11.45" style="font-style:normal;stroke-width:0.20px" fill="#000">2</text>
<text transform="translate(462.93 169.75) scale(0.9945 1)" font-size="11.45" style="font-style:normal;stroke-width:0.20px" fill="#000">0</text>
<text transform="translate(469.80 169.75) scale(0.9945 1)" font-size="11.45" style="font-style:normal;stroke-width:0.20px" fill="#000">0</text>
<text transform="translate(394.81 182.60) scale(1.2000 1)" font-size="11.02" style="font-style:italic;stroke-width:0.12px" fill="#000">t</text>
<line x1="399.19" y1="183.26" x2="401.76" y2="175.33" stroke="#000" stroke-width="1.00"/>
<text transform="translate(402.21 182.60) scale(0.8600 1)" font-size="11.02" style="font-style:italic;stroke-width:0.20px" fill="#000">P</text>
<text transform="translate(408.66 184.73) scale(0.9945 1)" font-size="7.72" style="font-style:normal;stroke-width:0.15px" fill="#000">0</text>
<text transform="translate(271.80 134.66) rotate(-90) scale(0.9554 1)" font-size="11.13" style="font-style:italic;stroke-width:0.18px" fill="#000">a</text>
<text transform="translate(273.50 128.22) rotate(-90) scale(0.9043 1)" font-size="7.79" style="font-style:normal;stroke-width:0.08px" fill="#000">s</text>
<text transform="translate(273.50 124.45) rotate(-90) scale(0.9166 1)" font-size="7.79" style="font-style:normal;stroke-width:0.08px" fill="#000">B</text>
<text transform="translate(273.50 119.42) rotate(-90) scale(0.9384 1)" font-size="7.79" style="font-style:normal;stroke-width:0.08px" fill="#000">H</text>
<line x1="272.48" y1="113.37" x2="264.45" y2="110.53" stroke="#000" stroke-width="0.95"/>
<text transform="translate(271.80 109.99) rotate(-90) scale(0.9554 1)" font-size="11.13" style="font-style:italic;stroke-width:0.18px" fill="#000">a</text>
<text transform="translate(273.50 103.54) rotate(-90) scale(0.9043 1)" font-size="7.79" style="font-style:normal;stroke-width:0.08px" fill="#000">s</text>
<text transform="translate(273.50 99.78) rotate(-90) scale(0.9166 1)" font-size="7.79" style="font-style:normal;stroke-width:0.08px" fill="#000">B</text>
<text transform="translate(273.50 94.75) rotate(-90) scale(0.9384 1)" font-size="7.79" style="font-style:normal;stroke-width:0.08px" fill="#000">H</text>
<text transform="translate(271.80 88.70) rotate(-90) scale(0.7975 1)" font-size="11.13" style="font-style:normal;stroke-width:0.18px" fill="#000">(</text>
<text transform="translate(271.80 84.69) rotate(-90) scale(0.9945 1)" font-size="11.13" style="font-style:normal;stroke-width:0.18px" fill="#000">0</text>
<text transform="translate(271.80 77.48) rotate(-90) scale(0.7975 1)" font-size="11.13" style="font-style:normal;stroke-width:0.18px" fill="#000">)</text>
<rect x="268.07" y="64.44" width="0.98" height="6.57" fill="#000"/>
<text transform="translate(271.80 60.93) rotate(-90) scale(0.9498 1)" font-size="11.13" style="font-style:normal;stroke-width:0.18px" fill="#000">1</text>
<rect x="394.4" y="38.3" width="92.0" height="33.6" rx="2.4" fill="#fff" fill-opacity="0.8" stroke="#d6d6d6" stroke-width="1.1"/>
<line x1="398.2" y1="46.5" x2="419.4" y2="46.5" stroke="#1f77b4" stroke-width="2.7" stroke-linecap="square"/>
<line x1="398.3" y1="61.9" x2="419.4" y2="61.9" stroke="#ff0000" stroke-width="2.7" stroke-dasharray="10.0 3.84"/>
<text transform="translate(427.52 50.60) scale(0.9043 1)" font-size="11.24" style="font-style:normal;stroke-width:0.20px" fill="#000">s</text>
<text transform="translate(432.95 50.60) scale(0.9166 1)" font-size="11.24" style="font-style:normal;stroke-width:0.20px" fill="#000">B</text>
<text transform="translate(440.20 50.60) scale(0.9384 1)" font-size="11.24" style="font-style:normal;stroke-width:0.20px" fill="#000">H</text>
<text transform="translate(427.52 65.40) scale(0.9043 1)" font-size="11.24" style="font-style:normal;stroke-width:0.20px" fill="#000">s</text>
<text transform="translate(432.95 65.40) scale(0.9166 1)" font-size="11.24" style="font-style:normal;stroke-width:0.20px" fill="#000">B</text>
<text transform="translate(440.20 65.40) scale(0.9384 1)" font-size="11.24" style="font-style:normal;stroke-width:0.20px" fill="#000">H</text>
<text transform="translate(447.42 65.40) scale(1.3752 1)" font-size="11.24" style="font-style:normal;stroke-width:0.20px" fill="#000">,</text>
<text transform="translate(454.78 65.40) scale(1.2388 1)" font-size="11.24" style="font-style:normal;stroke-width:0.20px" fill="#000">f</text>
<text transform="translate(458.74 65.40) scale(0.9644 1)" font-size="11.24" style="font-style:normal;stroke-width:0.20px" fill="#000">i</text>
<text transform="translate(461.48 65.40) scale(1.2609 1)" font-size="11.24" style="font-style:normal;stroke-width:0.20px" fill="#000">t</text>
<text transform="translate(465.64 65.40) scale(1.2609 1)" font-size="11.24" style="font-style:normal;stroke-width:0.20px" fill="#000">t</text>
<text transform="translate(469.82 65.40) scale(1.0190 1)" font-size="11.24" style="font-style:normal;stroke-width:0.20px" fill="#000">e</text>
<text transform="translate(476.35 65.40) scale(1.0253 1)" font-size="11.24" style="font-style:normal;stroke-width:0.20px" fill="#000">d</text>
</svg></div>
</body></html>
